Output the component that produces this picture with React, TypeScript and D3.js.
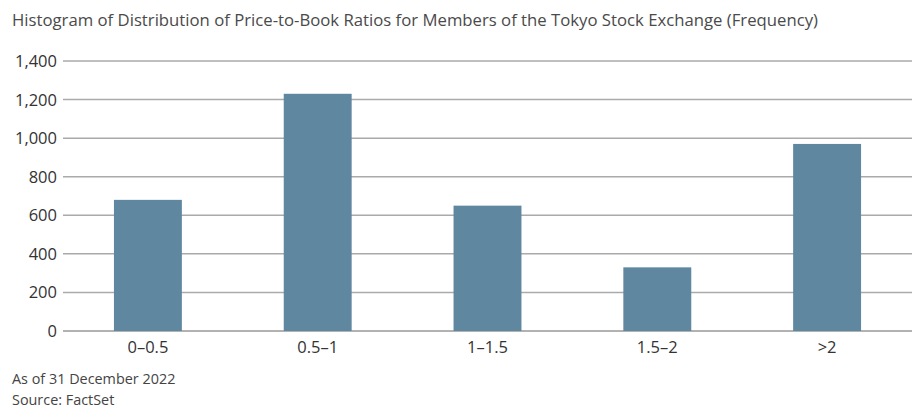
import React from "react";
import * as d3 from "d3";

const categories = ["0–0.5", "0.5–1", "1–1.5", "1.5–2", ">2"];
const frequencies = [680, 1230, 650, 330, 970];
const yTicks = [0, 200, 400, 600, 800, 1000, 1200, 1400];

const W = 916;
const H = 418;
const FONT = "'Open Sans', 'Noto Sans', sans-serif";

export default function App() {
  const left = 63;
  const right = 912;
  const top = 61;
  const bottom = 331;
  const x = d3
    .scaleBand<string>()
    .domain(categories)
    .range([left, right])
    .paddingInner(0.6)
    .paddingOuter(0.3);
  const y = d3.scaleLinear().domain([0, 1400]).range([bottom, top]);
  const fmt = d3.format(",");
  return (
    <svg
      width={W}
      height={H}
      style={{ position: "absolute", left: 0, top: 0, background: "#fff" }}
      fontFamily={FONT}
    >
      <text x={12} y={26} fontSize={15.5} fill="#4a4a4a" textLength={806} lengthAdjust="spacingAndGlyphs">
        Histogram of Distribution of Price-to-Book Ratios for Members of the Tokyo Stock Exchange (Frequency)
      </text>
      {yTicks.map((t) => (
        <g key={t}>
          <line
            x1={left}
            x2={right}
            y1={y(t)}
            y2={y(t)}
            stroke={t === 0 ? "#999" : "#aaa"}
            strokeWidth={1.5}
          />
          <text
            x={57}
            y={y(t)}
            dy="0.36em"
            textAnchor="end"
            fontSize={16.5}
            fill="#333"
          >
            {fmt(t)}
          </text>
        </g>
      ))}
      {categories.map((c, i) => (
        <rect
          key={c}
          x={x(c)}
          width={x.bandwidth()}
          y={y(frequencies[i])}
          height={y(0) - y(frequencies[i])}
          fill="#5f87a0"
        />
      ))}
      {categories.map((c) => (
        <text
          key={c}
          x={(x(c) as number) + x.bandwidth() / 2}
          y={352.5}
          textAnchor="middle"
          fontSize={16.5}
          fill="#333"
        >
          {c}
        </text>
      ))}
      <text x={12} y={383.5} fontSize={14.4} fill="#444">
        As of 31 December 2022
      </text>
      <text x={12} y={404.5} fontSize={14.4} fill="#444">
        Source: FactSet
      </text>
    </svg>
  );
}
